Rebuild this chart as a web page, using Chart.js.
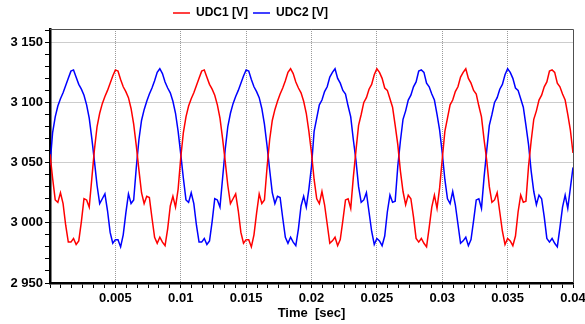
<!DOCTYPE html>
<html>
<head>
<meta charset="utf-8">
<script src="https://cdn.jsdelivr.net/npm/chart.js@4.4.1/dist/chart.umd.min.js"></script>
<style>
  html, body { margin: 0; padding: 0; background: #fff; overflow: hidden; }
  #wrap { position: relative; width: 600px; height: 324px; }
</style>
</head>
<body>
<div id="wrap"><canvas id="udcChart"></canvas></div>
<script>
// sample times (s), 0.2 ms step
const times = Array.from({length: 201}, (_, i) => +(i * 0.0002).toFixed(4));

// UDC1 [V]
const udc1 = [
  3057,3037,3019,3017,3025,3016,2998,2984,2984,2987,
  2982,2985,3001,3020,3019,3013,3037,3061,3080,3091,
  3099,3105,3110,3116,3122,3127,3126,3119,3113,3109,
  3104,3095,3082,3064,3044,3025,3016,3022,3021,3004,
  2988,2983,2988,2984,2981,2995,3014,3022,3013,3028,
  3054,3075,3088,3097,3103,3108,3114,3120,3126,3127,
  3121,3115,3111,3106,3098,3087,3070,3051,3031,3016,
  3020,3024,3010,2992,2983,2986,2986,2980,2990,3008,
  3024,3016,3019,3046,3069,3085,3094,3101,3107,3112,
  3118,3125,3128,3124,3117,3112,3108,3101,3091,3076,
  3058,3036,3020,3016,3026,3015,2999,2983,2985,2988,
  2981,2986,3002,3019,3020,3012,3038,3060,3081,3090,
  3100,3104,3111,3115,3123,3128,3125,3120,3112,3110,
  3103,3096,3081,3065,3043,3026,3015,3023,3020,3005,
  2987,2984,2987,2983,2980,2996,3013,3023,3012,3029,
  3053,3076,3087,3098,3102,3109,3113,3121,3125,3128,
  3120,3116,3110,3107,3097,3088,3069,3052,3030,3017,
  3019,3025,3009,2993,2982,2987,2985,2981,2989,3009,
  3023,3017,3018,3047,3068,3086,3093,3102,3106,3113,
  3117,3126,3127,3125,3116,3113,3107,3102,3090,3077,
  3058
];

// UDC2 [V]
const udc2 = [
  3048,3075,3088,3097,3103,3108,3114,3120,3126,3127,
  3121,3115,3111,3106,3098,3087,3070,3051,3031,3016,
  3020,3024,3010,2992,2983,2986,2986,2980,2990,3008,
  3024,3016,3019,3046,3069,3085,3094,3101,3107,3112,
  3118,3125,3128,3124,3117,3112,3108,3101,3091,3076,
  3057,3037,3019,3017,3025,3016,2998,2984,2984,2987,
  2982,2985,3001,3020,3019,3013,3037,3061,3080,3091,
  3099,3105,3110,3116,3122,3127,3126,3119,3113,3109,
  3104,3095,3082,3064,3044,3025,3016,3022,3021,3004,
  2988,2983,2988,2984,2981,2995,3014,3022,3013,3028,
  3047,3076,3087,3098,3102,3109,3113,3121,3125,3128,
  3120,3116,3110,3107,3097,3088,3069,3052,3030,3017,
  3019,3025,3009,2993,2982,2987,2985,2981,2989,3009,
  3023,3017,3018,3047,3068,3086,3093,3102,3106,3113,
  3117,3126,3127,3125,3116,3113,3107,3102,3090,3077,
  3058,3036,3020,3016,3026,3015,2999,2983,2985,2988,
  2981,2986,3002,3019,3020,3012,3038,3060,3081,3090,
  3100,3104,3111,3115,3123,3128,3125,3120,3112,3110,
  3103,3096,3081,3065,3043,3026,3015,3023,3020,3005,
  2987,2984,2987,2983,2980,2996,3013,3023,3012,3029,
  3046
];

const yMajor = [2950, 3000, 3050, 3100, 3150];
const xMajor = [0.005, 0.01, 0.015, 0.02, 0.025, 0.03, 0.035, 0.04];

const FONT = "'Liberation Sans', Arial, sans-serif";

function isXMajor(v) { return xMajor.some(m => Math.abs(m - v) < 1e-7); }
function isYMajor(v) { return yMajor.some(m => Math.abs(m - v) < 1e-6); }
function spaced(v) { return String(v).replace(/\B(?=(\d{3})+(?!\d))/g, ' '); }

// thin top/right frame
const framePlugin = {
  id: 'frame',
  afterDatasetsDraw(chart) {
    const {ctx, chartArea: a} = chart;
    ctx.save();
    ctx.strokeStyle = '#505050';
    ctx.lineWidth = 1;
    ctx.beginPath();
    ctx.moveTo(a.left, Math.round(a.top) + 0.5);
    ctx.lineTo(Math.round(a.right) + 0.5, Math.round(a.top) + 0.5);
    ctx.lineTo(Math.round(a.right) + 0.5, a.bottom);
    ctx.stroke();
    ctx.restore();
  }
};

// legend sits left of centre in the original
const legendShift = {
  id: 'legendShift',
  afterLayout(chart) {
    chart.legend.left -= 36;
    chart.legend.right -= 36;
  }
};

const ctx = document.getElementById('udcChart').getContext('2d');
const myChart = new Chart(ctx, {
  type: 'line',
  data: {
    datasets: [
      {
        label: 'UDC1 [V]',
        data: times.map((t, i) => ({x: t, y: udc1[i]})),
        borderColor: '#ff0000',
        backgroundColor: '#ff0000',
        borderWidth: 1.5,
        pointRadius: 0,
        tension: 0
      },
      {
        label: 'UDC2 [V]',
        data: times.map((t, i) => ({x: t, y: udc2[i]})),
        borderColor: '#0000ff',
        backgroundColor: '#0000ff',
        borderWidth: 1.5,
        pointRadius: 0,
        tension: 0
      }
    ]
  },
  options: {
    responsive: true,
    maintainAspectRatio: false,
    animation: false,
    layout: { padding: { top: 2, right: 27, bottom: 0, left: 0 } },
    plugins: {
      legend: {
        position: 'top',
        labels: {
          usePointStyle: true,
          pointStyle: 'line',
          pointStyleWidth: 17,
          padding: 5,
          color: '#000',
          font: { family: FONT, size: 12, weight: 'bold' }
        }
      },
      tooltip: { enabled: false }
    },
    scales: {
      x: {
        type: 'linear',
        min: 0,
        max: 0.04,
        afterBuildTicks(scale) {
          const t = [];
          for (let k = 0; k <= 48; k++) t.push({value: k * 0.04 / 48});
          scale.ticks = t;
        },
        afterFit(scale) { scale.height = 41; },
        ticks: {
          autoSkip: false,
          maxRotation: 0,
          padding: 3,
          color: '#000',
          font: { family: FONT, size: 13, weight: 'bold' },
          callback: (v) => (isXMajor(v) ? String(+v.toFixed(3)) : '')
        },
        grid: {
          color: (c) => (c.tick && isXMajor(c.tick.value) && c.tick.value < 0.0399 ? '#9a9a9a' : 'rgba(0,0,0,0)'),
          tickColor: '#000',
          tickLength: 5,
          lineWidth: 1
        },
        border: { display: true, color: '#000', width: 2.5, dash: [1, 1] },
        title: {
          display: true,
          text: 'Time  [sec]',
          color: '#000',
          font: { family: FONT, size: 13, weight: 'bold' },
          padding: { top: 0, bottom: 3 }
        }
      },
      y: {
        min: 2950,
        max: 3161,
        afterBuildTicks(scale) {
          const t = [];
          for (let v = 2950; v <= 3160; v += 10) t.push({value: v});
          scale.ticks = t;
        },
        afterFit(scale) { scale.width = 50; },
        ticks: {
          autoSkip: false,
          padding: 2,
          color: '#000',
          font: { family: FONT, size: 13, weight: 'bold' },
          callback: (v) => (isYMajor(v) ? spaced(v) : '')
        },
        grid: {
          color: (c) => (c.tick && isYMajor(c.tick.value) && c.tick.value > 2950 ? '#9a9a9a' : 'rgba(0,0,0,0)'),
          tickColor: '#000',
          tickLength: 5,
          lineWidth: 1
        },
        border: { display: true, color: '#000', width: 2.5, dash: [1, 1] }
      }
    }
  },
  plugins: [framePlugin, legendShift]
});
</script>
</body>
</html>
